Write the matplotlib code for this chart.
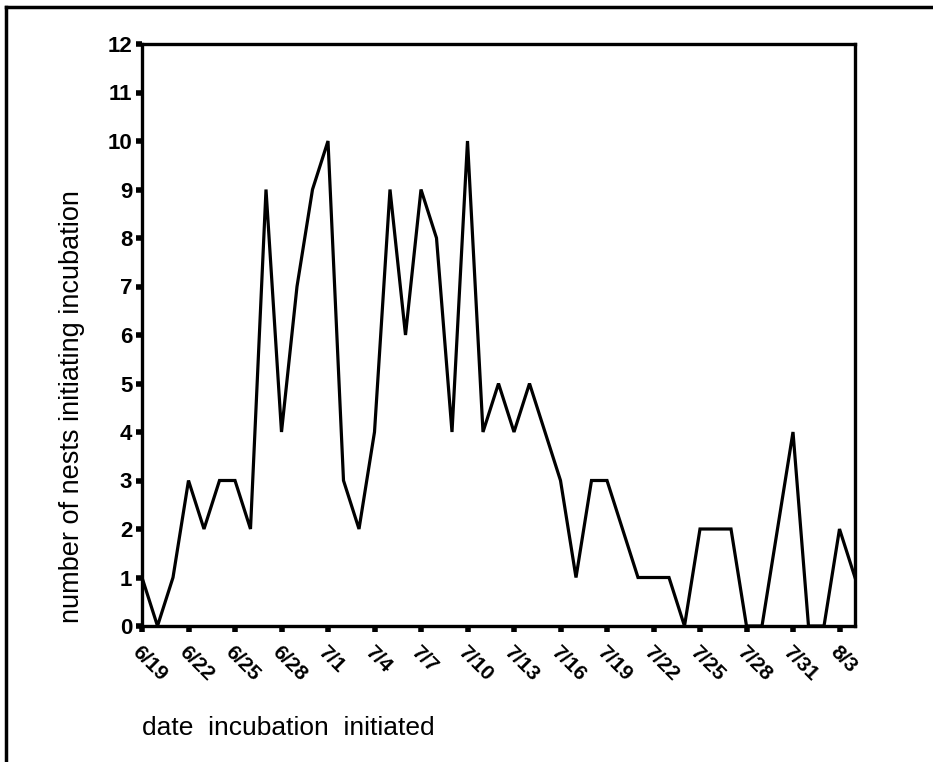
import matplotlib
matplotlib.use("Agg")
import matplotlib.pyplot as plt
from matplotlib.lines import Line2D

# daily counts, 6/19 through 8/4
counts = [1, 0, 1, 3, 2, 3, 3, 2, 9, 4, 7, 9, 10, 3, 2, 4, 9, 6, 9, 8, 4, 10, 4, 5,
          4, 5, 4, 3, 1, 3, 3, 2, 1, 1, 1, 0, 2, 2, 2, 0, 0, 2, 4, 0, 0, 2, 1]
days = list(range(len(counts)))

tick_labels = ['6/19', '6/22', '6/25', '6/28', '7/1', '7/4', '7/7', '7/10',
               '7/13', '7/16', '7/19', '7/22', '7/25', '7/28', '7/31', '8/3']
tick_days = [3 * i for i in range(len(tick_labels))]
y_ticks = list(range(0, 13))

plt.rcParams['font.family'] = ['Liberation Sans', 'DejaVu Sans']

fig = plt.figure(figsize=(9.33, 7.62), dpi=100)
ax = fig.add_axes([142 / 933, 136 / 762, 713 / 933, 582 / 762])

ax.plot(days, counts, color='black', linewidth=2.3, solid_joinstyle='miter')

ax.set_xlim(0, 46)
ax.set_ylim(0, 12)
ax.set_xticks(tick_days)
ax.set_xticklabels(tick_labels, rotation=-45, ha='left', va='top',
                   rotation_mode='anchor', fontweight='bold', fontsize=15)
ax.set_yticks(y_ticks)
ax.set_yticklabels([str(v) for v in y_ticks], fontweight='bold', fontsize=16)
ax.tick_params(axis='both', direction='out', length=4, width=4, color='black')
ax.tick_params(axis='x', pad=8)
ax.tick_params(axis='y', pad=3)

for s in ax.spines.values():
    s.set_linewidth(2.4)

fig.text(72 / 933, 1 - 407 / 762, 'number of nests initiating incubation',
         rotation=90, ha='center', va='center', fontsize=19.5)
fig.text(142 / 933, 1 - 728 / 762, 'date  incubation  initiated',
         ha='left', va='center', fontsize=19)

# outer frame
fig.add_artist(Line2D([6 / 933, 6 / 933], [0, 1 - 7 / 762], color='black',
                      linewidth=2.5, transform=fig.transFigure))
fig.add_artist(Line2D([6 / 933, 1], [1 - 7 / 762, 1 - 7 / 762], color='black',
                      linewidth=2.5, transform=fig.transFigure))

fig.savefig('out.png', dpi=100)
